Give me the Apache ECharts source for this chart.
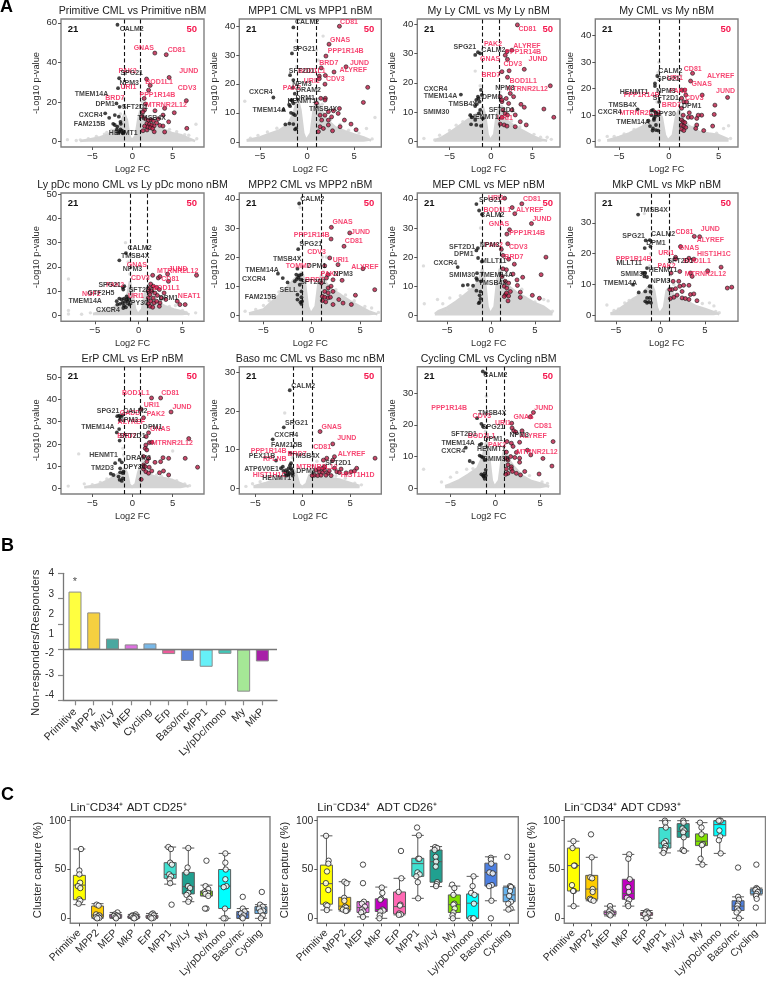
<!DOCTYPE html>
<html><head><meta charset="utf-8">
<style>html,body{margin:0;padding:0;background:#fff}#c{width:766px;height:981px}</style>
<script src="https://cdn.jsdelivr.net/npm/echarts@6/dist/echarts.min.js"></script>
</head><body><div id="c"></div>
<script>
const panelTitles=['Primitive CML vs Primitive nBM','MPP1 CML vs MPP1 nBM','My Ly CML vs My Ly nBM','My CML vs My nBM','Ly pDc mono CML vs Ly pDc mono nBM','MPP2 CML vs MPP2 nBM','MEP CML vs MEP nBM','MkP CML vs MkP nBM','ErP CML vs ErP nBM','Baso mc CML vs Baso mc nBM','Cycling CML vs Cycling nBM'];
const downCount='21', upCount='50';
const yTicks=[[0,20,40,60],[0,10,20,30,40],[0,10,20,30,40],[0,10,20,30,40],[0,10,20,30,40,50],[0,10,20,30,40],[0,10,20,30,40],[0,10,20,30],[0,10,20,30,40,50],[0,10,20,30],[0,10,20,30]];
const xTicks=[-5,0,5];
// cloud envelopes (upper edge of the dense grey mass) [log2FC, -log10p]
const env1=[[-6.5,.3],[-5.5,1],[-4,2.2],[-3,3.6],[-2,6.7],[-1.4,10],[-1,14],[-.7,11],[-.4,3],[-.1,.6],[.1,.6],[.4,3],[.7,11],[1,16],[1.5,13],[2,10],[3,7],[4,5.9],[5,4.2],[6,3.4],[7,1.7],[7.8,.3]];
const env2=[[-6.4,.5],[-5,1.5],[-4,2.7],[-3,3.8],[-2,6],[-1.4,10],[-1,15],[-.7,11],[-.4,3],[-.1,.5],[.1,.5],[.4,3],[.7,11],[1,15],[1.5,11],[2,8],[3,5],[4,3.7],[5,2.5],[6,1.5],[6.8,.4]];
const env3=[[-6.8,.5],[-6,1.3],[-5,3],[-4,5],[-3,7],[-2,9],[-1.4,10],[-1,12],[-.7,9],[-.4,2.5],[-.1,.4],[.1,.4],[.4,2.5],[.7,9],[1,12],[1.5,9],[2,7],[3,5],[4,3.5],[5,2],[6,.8],[6.8,.3]];
const env4=[[-6.2,.5],[-5,1.8],[-4,3.1],[-3,5],[-2,6.9],[-1.4,9],[-1,12],[-.7,9],[-.4,2.5],[-.1,.4],[.1,.4],[.4,2.5],[.7,9],[1,12],[1.5,8],[2,6],[3,3.8],[4,3.1],[5,2.5],[6,.9]];
const env5=[[-5.2,.5],[-4,1.7],[-3,3],[-2,5],[-1.3,8],[-1,14],[-.7,9],[-.4,2.5],[-.1,.4],[.1,.4],[.4,2.5],[.7,9],[1,12],[1.5,7],[2,5.5],[3,3.8],[4,2.4],[5,1.6],[5.8,.3]];
const env6=[[-6.5,.6],[-5,2],[-4,5],[-3,8],[-2,11.7],[-1.3,14],[-1,15],[-.7,11],[-.4,3],[-.1,.5],[.1,.5],[.4,3],[.7,11],[1,14],[1.5,11],[2,9],[3,7],[4,4.8],[5,3],[6,1.2],[6.8,.3]];
const env7=[[-6.4,.5],[-6,1.5],[-5,2.7],[-4,4.7],[-3,7],[-2,9.4],[-1.4,12],[-1,16],[-.7,12],[-.4,3],[-.1,.5],[.1,.5],[.4,3],[.7,12],[1,16],[1.5,12],[2,10],[3,7.6],[4,6],[5,4.2],[6,3],[7,.8]];
const env8=[[-5.6,.5],[-5,1.2],[-4,3.2],[-3,5.4],[-2,7],[-1.4,9],[-1,10],[-.7,8],[-.4,2.5],[-.1,.4],[.1,.4],[.4,2.5],[.7,8],[1,9],[1.5,6.5],[2,5.2],[3,4.5],[4,2.9],[5,2],[6,1],[6.6,.3]];
const env9=[[-6,.5],[-5,1],[-4,2],[-3,3.7],[-2,6],[-1.4,7.5],[-1,9],[-.7,7],[-.4,2],[-.1,.4],[.1,.4],[.4,2],[.7,7],[1,10],[1.5,8],[2,6.3],[3,5],[4,4.5],[5,3.7],[6,2.2],[7,.7]];
const env10=[[-5.2,.5],[-4,1.3],[-3,2.2],[-2,3],[-1.4,4],[-1,5],[-.7,3.8],[-.4,1.2],[-.1,.3],[.1,.3],[.4,1.2],[.7,3.4],[1,4],[2,2.8],[3,2.6],[4,2.2],[5,1.4],[6,.6]];
const env11=[[-5.6,.7],[-5,1.3],[-4,2.6],[-3,4.3],[-2,6.3],[-1.4,10],[-1,15],[-.7,10],[-.4,2.5],[-.1,.4],[.1,.4],[.4,2.5],[.7,9],[1,12],[1.5,9],[2,7],[3,3.9],[4,2.3],[5,1.5],[6,.5]];
// scattered grey genes outside the dense mass
const gray1=[[-8.1,1],[-7,.6],[-6.5,.9],[-5.5,1.5],[-4.5,2.6],[-3.5,3.8],[-2.6,5.8],[-1.5,14],[-1.2,18],[-1.1,22],[1.1,24],[1.2,20],[1.5,17],[2.5,11],[3.2,9],[5.5,5],[6.5,3.5],[7,3.2],[7.9,8.8],[8,1.5],[4.6,6.2],[3.7,7.4],[-3.2,4.6]];
const gray2=[[-6.6,14],[-6,1.2],[-5.2,2.2],[-4.2,3.4],[-3.2,4.7],[-1.1,35],[-1.1,26],[-1.1,20],[1.0,31.7],[1.2,28.2],[1.7,36.5],[1.2,18],[1.6,13],[3.5,6],[5.5,3],[6.3,4.6],[7.2,8.4],[6.9,1],[2.5,7.6],[4.4,4]];
const gray3=[[-8.1,1.1],[-6.2,2.2],[-6.8,.6],[-5,3.8],[-4.2,5.6],[-3.4,6.8],[-1.9,24],[-1.3,19],[-1.1,15],[1.1,17],[1.3,12],[2.5,7],[5.2,2.5],[6,1.5],[6.8,1.5],[7.3,.8],[3.5,5],[-2.5,9.2]];
const gray4=[[-7,.5],[-6.2,2],[-5.5,2],[-4.5,2.9],[-3.5,4.6],[-1.1,19],[-1.1,26],[-1,30],[-1.2,15],[1.1,15],[1.2,25],[1.4,10],[4.8,3.2],[5.5,5],[6,6],[6.2,1.2],[-2.5,6.7],[2.5,5.5]];
const gray5=[[-8,15],[-8,2],[-8,.5],[-6.5,.4],[-5.5,1],[-4.5,2],[-1.5,30],[-1.2,22],[-1,17],[1.1,16],[1.5,10],[2.5,6],[4.2,4],[5,2],[5.4,1.2],[6.5,1],[-3.5,2.9],[3.5,3.6]];
const gray6=[[-6.9,1.4],[-5.8,2],[-5,3.4],[-4.4,5],[-1.2,37],[-1.1,25],[-1.3,20],[1.1,20],[1.2,15],[1.5,20],[3.5,7],[4.4,5],[5.5,3],[6.2,2.5],[6.9,1],[-3.4,8],[2.5,8.8]];
const gray7=[[-7.7,17],[-7.6,4],[-6.1,5.5],[-5.5,4],[-5,2],[-4.7,6],[-1.2,30],[-1.1,25],[1.2,22],[1.1,18],[3.5,9],[5,4.6],[6,5.5],[6.5,5],[7,1.5],[-3.5,6.8],[-2.5,9]];
const gray8=[[-6,3.3],[-5.2,1.5],[-4.7,2],[-4,4],[-3.5,4.8],[-1.8,33],[-1.1,20],[-1.2,16],[1.1,13],[1.5,10],[4.7,3.8],[5.5,4],[6,3],[6.2,1.2],[6.6,.8],[-2.5,6.8],[2.5,5]];
const gray9=[[-8,1],[-6.7,15.5],[-6,2],[-5,1.6],[-4,2.6],[-3.2,4.2],[-1.2,18],[-1.1,15],[1.2,15],[1.3,12],[3,6],[5,16.8],[5.5,3.4],[6.5,2],[7.1,1.2],[-2.5,5.6],[3.6,5.4]];
const gray10=[[-6,.5],[-5.3,1.2],[-4.5,1.7],[-3.5,2.5],[-1.9,19.5],[-1.2,11],[-1.1,8],[1.1,6],[1.5,7],[3.5,3.2],[4.5,2.6],[5.5,1.3],[6.2,.9],[-2.5,3]];
const gray11=[[-8,6],[-6,2],[-5,3.5],[-4.9,1.2],[-4.3,5],[-3.2,6],[-1,29],[-1,24],[-1.1,18],[1.1,14],[1.2,10],[3.8,4],[5.2,2],[5.8,1.5],[-2.5,6.2],[2.5,5]];
// significantly down-regulated genes
const black1=[[-1.87,59],[-1.66,32],[-1.8,27],[-2.9,12],[-3.4,14.3],[-1.6,17.6],[-2.2,13.4],[-1.7,12.6],[-1.5,10],[-2.2,8.4],[-1.9,7.6],[-1.5,6.2],[-1.3,5.5],[-1.6,5],[-1.2,4.2],[-2.4,9],[-1.45,9],[-1.95,6],[-2,19.3],[-1.1,4.7],[-1.8,4.4]];
const black2=[[-1.45,39.5],[-1.6,30.5],[-1.8,23],[-1.45,21.3],[-3.57,15.3],[-1.5,18.7],[-1.6,14.4],[-1.8,12.3],[-1.45,13.3],[-1.7,10],[-1.45,9.6],[-2.3,6],[-1.87,6.3],[-1.45,6.1],[-1.27,4.3],[-1.27,9.2],[-1.7,14.4],[-2.5,11],[-1.15,4.6],[-1.3,16.6],[-1.9,12.8]];
const black3=[[-1.57,30.4],[-1.3,30],[-3.63,16],[-1.1,15.9],[-1.5,14.7],[-1.77,14.2],[-1.37,13.6],[-1.7,12.8],[-1.9,12.1],[-2.5,9],[-2.3,8.3],[-1.9,7.4],[-1.2,5.4],[-1.77,5.7],[-2.4,5.9],[-.97,7.9],[-1.45,9.6],[-1.3,10.8],[-1.57,15.3],[-1.2,17.6],[-1.9,29.5]];
const black4=[[-1.17,24.8],[-1.4,22],[-1.4,21],[-1.6,12],[-3.15,12.2],[-1.75,11.7],[-1.4,11.3],[-1.24,10.7],[-1.75,10],[-1.4,9.4],[-2.05,7.9],[-1.5,8.2],[-1.9,5.9],[-1.6,5],[-1.3,4.4],[-1.07,4.2],[-1.5,8.8],[-1.07,10],[-.97,15],[-1.3,6.3],[-1.64,4.2]];
const black5=[[-1.45,25.7],[-2.2,22.7],[-1.63,12],[-1.75,10.6],[-2.5,5.8],[-2.2,6.9],[-1.94,6.5],[-1.67,6.9],[-1.37,6.5],[-1.83,5.1],[-2.13,4.7],[-1.67,4],[-1.18,5.5],[-1.45,3.3],[-1.75,3],[-1.18,6.9],[-1.06,4.4],[-2.43,4.4],[-1.56,5.5],[-1.37,7.8],[-1.8,11.5]];
const black6=[[-1.3,38.4],[-1.4,22.7],[-1.48,16],[-3.5,14.3],[-3,12.8],[-2.5,11.3],[-1.6,14],[-1.3,13.7],[-1.07,14],[-1.4,13],[-1.76,11.7],[-1.17,12.3],[-1.24,10.5],[-1.07,8.2],[-1.48,5.4],[-1.07,6.2],[-1,4.8],[-1.07,3.9],[-1.48,7.1],[-1.17,4.5],[-1.55,12.4]];
const black7=[[-1.67,38.2],[-1.36,36],[-1.02,34.7],[-1.5,23.1],[-1.67,22.3],[-1.48,19.7],[-3.8,16.6],[-1.6,14.5],[-1.67,12.8],[-1.6,12.2],[-3.2,10.3],[-2.65,10.5],[-2.05,10.2],[-1.67,8.5],[-1.2,8.2],[-1.3,6.9],[-1.2,5.7],[-1.4,4.2],[-1.3,4.6],[-1.14,11.7],[-1.05,18.5]];
const black8=[[-2.5,32.7],[-1.65,24.3],[-1.2,24.4],[-1.12,22.3],[-1.76,21.8],[-1.5,15.3],[-1.7,13.7],[-1.95,13.7],[-1.8,12.6],[-1.5,12.4],[-3.07,9.9],[-2.43,7.4],[-1.7,7.7],[-1.2,9.4],[-1.5,5.6],[-1.7,4.5],[-1.3,4.3],[-1.05,4],[-1.2,5.6],[-1.5,4],[-1.1,7.6]];
const black9=[[-1.66,32.7],[-1.45,32.3],[-1.25,33],[-1.6,30.8],[-1.66,26.7],[-1.95,25.2],[-1.6,21.5],[-1.6,12.8],[-2.16,11.3],[-1.33,11.7],[-1.54,9],[-2.7,6.6],[-2.37,6],[-1.54,7.2],[-1.74,5.3],[-1.6,3.8],[-1.2,6.8],[-1.2,4.5],[-1.33,3.3],[-1.12,7.5],[-1.9,32.5]];
const black10=[[-1.37,25.4],[-2,15.8],[-3.17,12.7],[-1.3,9.2],[-2.82,7.2],[-2.1,5.6],[-1.23,6.5],[-1.48,5.2],[-1.76,4.7],[-1.23,5.2],[-1.58,4.3],[-1.4,3.9],[-1.13,4.7],[-1.06,3.9],[-1.83,3.9],[-2.3,5.2],[-1.34,6],[-2.04,4.5],[-1.06,3.3],[-1.7,3.3],[-1.5,3.5]];
const black11=[[-1.4,36.8],[-1.1,36.3],[-2.04,22.1],[-1.56,20.3],[-1.38,19.5],[-1.56,14],[-1.75,13.7],[-3.3,12.8],[-1.75,10.3],[-1.56,10],[-1.38,9.7],[-2.86,8.6],[-2.5,8.1],[-1.2,8.9],[-1.08,5.8],[-1.56,4.4],[-1.2,4.7],[-1.3,3.7],[-1.08,4],[-1.2,3],[-1.38,4]];
// significantly up-regulated genes
const red1=[[2.78,44.7],[4.2,43.9],[1.75,31.6],[2.2,28.4],[4.56,32.4],[6.7,20.7],[5.2,14.6],[6.76,6.7],[1.45,21.8],[2,26],[1.6,19],[1.5,16],[2.8,15.6],[3.8,13.4],[4,16.8],[4.5,10],[4,4.9],[2.7,5],[1.8,5.9],[1.3,5.5],[3.4,8.2],[3.8,7.9],[1.6,11.5],[2,10.8],[2.3,11],[2.6,10.5],[1.8,9.2],[2.1,8.8],[2.4,8.4],[2.7,8],[1.9,7.4],[2.2,7],[2.5,6.6],[1.5,7.8],[1.2,12.8],[1.3,15],[3,9.5],[3.2,11.5]];
const red2=[[3.43,39.9],[2.33,33.7],[2,29.6],[1.5,25.5],[4.13,25.9],[2.86,24.1],[1.94,22.9],[1.3,22.7],[1.3,21.8],[1.9,19.9],[6.43,18.8],[5.97,13.6],[1.45,15],[1.94,15],[1.9,14.4],[1,13.3],[3.43,11.5],[2.8,10.7],[2.26,10.4],[3.3,9.8],[1.38,9.2],[1.9,9.2],[1.55,7.5],[2.26,7.5],[2.6,8.6],[3.96,7.5],[4.66,6.1],[5.2,4.15],[3.5,5.2],[2.7,3.8],[1.38,5.2],[1.73,4.6],[1.2,3.5],[2.26,5.8]];
const red3=[[3.2,39.7],[2.54,31.1],[1.94,30.6],[1.73,29.4],[2,28],[4.03,24.6],[2.2,24.1],[1.33,23.8],[2,21.9],[7.18,19],[7.6,8.3],[6.4,11.1],[2.74,15.3],[1.33,13.6],[2.14,13],[3.63,12.7],[4.03,11.7],[1.45,10.8],[2.54,10.8],[1.73,9.6],[2,9.1],[2.94,9.1],[1.33,8.3],[3.55,6.8],[2.94,5.1],[4.27,5.7],[1.13,6],[1.6,5.7],[1.94,5.3],[1.13,15.3],[1.33,14.2],[2.34,16.4],[1.85,14.7]];
const red4=[[2.38,25.8],[2.18,22.9],[5.9,16.7],[3.35,17.6],[4.63,13.8],[4.56,10.3],[4.4,5.9],[2.8,8.8],[3.3,10],[2.95,10],[1.28,19.5],[1.6,19.5],[1.7,17.6],[1.28,16.4],[1.5,15],[1.78,15],[1.28,12.6],[2.05,10.9],[1.44,10],[1.95,9.2],[1.28,8.2],[1.44,7.5],[1.6,7.2],[1.28,6.3],[1.5,5.9],[1.7,5.4],[1.28,4.7],[1.5,4.2],[2.28,9.2],[2.8,6.3],[3.5,4.2],[2.7,5]];
const red5=[[6.6,16.5],[1.6,16.5],[3.3,17],[2.24,15.4],[2.43,16],[3.4,14],[1.37,12.9],[1.67,12],[2.05,11.5],[2.36,10.6],[1.22,11.3],[1.48,9.9],[1.86,9.2],[2.13,8.2],[1.3,8.5],[1.67,7.1],[1.1,7.1],[1.37,5.8],[1.75,5.1],[1.1,4.7],[1.3,3.7],[1.6,3.3],[3.1,6.5],[4.7,4.4],[5.3,4.4],[4.4,5.8],[2.6,7.1],[2.9,9.2],[2.43,5.1],[2.05,5.8],[1.1,9.9],[2.36,3.7]];
const red6=[[2.03,30.2],[2,26.2],[3.93,28.3],[3.34,23.7],[1.86,19.7],[2.72,17.4],[1.34,17],[5.3,16],[6.52,8.8],[4.52,6.9],[4.1,3.7],[3.24,4.2],[3.14,12],[2.2,12.2],[1.7,9.4],[2,10],[1.34,8.2],[1.7,7.7],[1.1,6.5],[1.34,6.2],[1.7,6],[1.1,5],[1.45,4.6],[2.2,3.7],[2.8,5.4],[2.2,8.2],[1,11.1],[1.7,14],[1.52,12.8],[1.93,6.2]];
const red7=[[1.55,40.2],[3.5,38.3],[2.4,37],[2.7,34.9],[4.6,31.5],[2.1,29.4],[1.8,27.9],[1.9,24.6],[1.17,22.7],[6.25,20],[1.36,20.6],[2,19.3],[1.36,16],[1.75,15.7],[2.65,17.6],[5.7,14],[3.6,13.1],[2.5,14.2],[2.95,12.2],[1.63,11.7],[2,11.1],[1.5,10],[1.8,9.4],[3,10.3],[3.33,8],[1.63,7.1],[2,6.7],[3.33,6.2],[4.7,6.9],[5.5,5.9],[1.93,5],[1.5,6.5],[1.75,7.7],[1.25,13.4],[2.2,8.2]];
const red8=[[4.4,25.5],[3.8,25.6],[2.25,22.3],[1.7,18.8],[1.7,18.2],[3.2,18.5],[3.75,18.2],[6.8,15.6],[5.3,14.4],[7.5,8.8],[8,9.1],[3.37,13.7],[3.56,12.6],[2.17,14.2],[1.2,13.7],[1.42,11],[2.06,11],[2.6,9.7],[3.2,9.7],[2.17,9.4],[1.3,8.3],[1.7,8.6],[2.43,7.7],[3.37,6.7],[3.75,6.9],[1.87,6.5],[1.5,5.8],[1.12,5.4],[2.43,5.6],[2.8,5.4],[4.1,4.7],[3.2,5.1],[1.05,8.3]];
const red9=[[2.37,40.7],[3.5,40.7],[4.8,34.4],[1.08,35.6],[1.37,31.8],[2,25],[1.7,23.3],[7,22.4],[6.56,13.5],[8.1,9.5],[4.5,13.5],[2.1,20.6],[2.4,20.7],[1.66,19.5],[1.58,18],[1.78,17.3],[1.37,14.3],[2,13.5],[3.8,13.8],[3.5,12],[2.8,11.7],[1.37,10.5],[2.07,9.5],[1.37,8.7],[1.66,7.5],[2,6.8],[3.36,7],[3.86,7.8],[4.5,6],[1.08,4],[1.78,12],[1.58,9.8],[2.4,7.8]];
const red10=[[1.83,14.7],[3.17,11.5],[7.64,7.8],[3.35,8.2],[2.54,7.8],[2.18,7.3],[3.17,7.3],[4.05,5],[5.7,5.2],[5.1,4.3],[5.46,4.5],[3.6,4.3],[3.87,4.1],[4.58,4],[1.4,4.7],[1.76,4.3],[2.1,4.1],[2.3,4.7],[2.64,3.9],[3,3.3],[1.23,3.4],[1.58,3.3],[1.94,3.4],[2.46,3.4],[1,3.3],[1.7,5],[2.1,5.2],[2.3,5.6],[2.8,4.5],[3.35,5.2]];
const red11=[[4.24,23.9],[3.9,22.5],[1.82,20.5],[1.86,19],[2.04,18.1],[2.27,17.7],[2.97,18.1],[1.3,14.7],[1.78,14.2],[1.97,13.2],[2.7,14.5],[6.43,14.7],[5.3,9.4],[6.3,7],[4.87,4.5],[3.57,12],[3.94,10.5],[1.23,11.4],[2.34,11.3],[1.7,10],[2.16,9.7],[2.7,9.5],[1.15,9.5],[1.4,8.9],[2.7,8.2],[1.4,7.4],[1.78,6.8],[1.23,6.1],[1.78,6.1],[1.4,4.7],[1.9,5.3],[2.34,4.7],[2.8,4.2],[3.27,5.3],[1.15,4.4]];
// gene labels [x, y, name]
const blackNames1=[[-.1,56.8,'CALM2'],[-.1,34.5,'SPG21'],[-.4,29.4,'NPM3'],[-5.1,24.2,'TMEM14A'],[-3.4,19.2,'DPM1'],[.3,17.6,'SFT2D1'],[-5.2,13.3,'CXCR4'],[-5.35,8.9,'FAM215B'],[2.4,11.8,'TMSB4X'],[-1.15,4.5,'HENMT1']];
const redNames1=[[1.4,47.2,'GNAS'],[5.5,46.2,'CD81'],[-.6,35.6,'PAK2'],[7,35.5,'JUND'],[3.3,30.3,'BOD1L1'],[-.5,27.7,'URI1'],[6.8,27,'CDV3'],[-2.2,22.2,'BRD7'],[3.1,23.5,'PPP1R14B'],[4.2,18.3,'MTRNR2L12']];
const blackNames2=[[0,41.2,'CALM2'],[-.3,32,'SPG21'],[-.55,24.4,'SFT2D1'],[-.55,20,'NPM3'],[.15,17.9,'DRAM2'],[-4.9,17,'CXCR4'],[-.2,15.2,'DPM1'],[-.55,14,'HENMT1'],[-4,11,'TMEM14A'],[1.7,11.2,'TMSB4X']];
const redNames2=[[4.45,41.5,'CD81'],[3.5,35.2,'GNAS'],[4.1,31.4,'PPP1R14B'],[2.3,27.3,'BRD7'],[5.55,27.3,'JUND'],[.5,24.4,'BOD1L1'],[4.9,24.8,'ALYREF'],[3,21.6,'CDV3'],[.5,21,'URI1'],[-1.6,18.4,'PAK2']];
const blackNames3=[[-3.15,32,'SPG21'],[.3,31.1,'CALM2'],[-6.7,17.9,'CXCR4'],[-6.1,15.5,'TMEM14A'],[.1,15.3,'DPM1'],[1.7,18.1,'NPM3'],[-3.4,12.7,'TMSB4X'],[1.3,10.8,'SFT2D1'],[-6.6,10,'SMIM30'],[-.8,8.3,'HENMT1']];
const redNames3=[[4.4,38.4,'CD81'],[.25,33.3,'PAK2'],[4.35,32.6,'ALYREF'],[3.9,30.5,'PPP1R14B'],[-.1,28.1,'GNAS'],[5.7,28.1,'JUND'],[2.65,26.3,'CDV3'],[0,22.5,'BRD7'],[3.9,20.7,'BOD1L1'],[4.4,17.9,'MTRNR2L12'],[1.7,7.9,'URI1']];
const blackNames4=[[.15,26.8,'CALM2'],[-.05,23.5,'SPG21'],[-3.5,18.6,'HENMT1'],[-.3,19.2,'NPM3'],[-.3,16.4,'SFT2D1'],[-4.65,14,'TMSB4X'],[2.3,13.5,'DPM1'],[-5.95,11,'CXCR4'],[-.4,10.3,'DPY30'],[-3.6,7.5,'TMEM14A']];
const redNames4=[[2.4,27.5,'CD81'],[5.2,24.9,'ALYREF'],[.6,23.9,'URI1'],[3.3,21.8,'GNAS'],[5.7,19.1,'JUND'],[.95,19.2,'PAK2'],[-2.75,17.6,'PPP1R14B'],[2.55,16.4,'CDV3'],[.25,13.7,'BRD7'],[-2.9,10.9,'MTRNR2L12']];
const blackNames5=[[.1,27.6,'CALM2'],[-.4,24.5,'TMSB4X'],[-.7,19.2,'NPM3'],[-3.3,12.4,'SPG21'],[.35,10.6,'SFT2D1'],[-4.3,9.2,'GTF2H5'],[-6.1,5.8,'TMEM14A'],[-.2,5.1,'DPY30'],[3.4,6.9,'DPM1'],[-3.5,2.1,'CXCR4']];
const redNames5=[[-.2,20.6,'GNAS'],[4.5,19.1,'JUND'],[4.45,18.1,'MTRNR2L12'],[.2,15.4,'CDV3'],[3.6,15,'CD81'],[3.1,11.3,'BOD1L1'],[-.3,8.1,'URI1'],[5.75,8.1,'NEAT1'],[-2.7,12.4,'PAK2'],[-5.4,8.8,'NGF2']];
const blackNames6=[[.05,40,'CALM2'],[-.1,24.3,'SPG21'],[-2.55,19.2,'TMSB4X'],[-5.15,15.6,'TMEM14A'],[-6,12.5,'CXCR4'],[.5,16.8,'DPM1'],[3.25,14.2,'NPM3'],[.15,11.3,'SFT2D1'],[-2.4,8.8,'SELL'],[-5.3,6.2,'FAM215B']];
const redNames6=[[3.2,32,'GNAS'],[0,27.7,'PPP1R14B'],[5.05,28.5,'JUND'],[4.35,25.4,'CD81'],[.5,21.8,'CDV3'],[3,19,'URI1'],[-1.4,17,'TOMM7'],[5.5,16.5,'ALYREF'],[.3,12,'BRD7'],[1.85,14.2,'PAK2']];
const blackNames7=[[-.1,39.7,'SPG21'],[.15,34.5,'CALM2'],[-3.3,23.5,'SFT2D1'],[-.15,24.3,'NPM3'],[-3.1,21,'DPM1'],[.3,18.5,'MLLT11'],[-5.2,17.9,'CXCR4'],[-3.3,13.9,'SMIM30'],[.6,13.9,'TMEM14A'],[.2,11,'TMSB4X']];
const redNames7=[[.55,40.3,'URI1'],[4.65,39.8,'CD81'],[.7,36,'BOD1L1'],[4.4,36.3,'ALYREF'],[5.8,33.1,'JUND'],[.9,31.2,'GNAS'],[4.1,28.1,'PPP1R14B'],[.3,24.3,'PAK2'],[3.1,23.3,'CDV3'],[2.6,19.9,'BRD7']];
const blackNames8=[[-.75,34.2,'TMSB4X'],[-3,25.8,'SPG21'],[.3,26.2,'CALM2'],[-.5,23.3,'DPM1'],[-3.5,17,'MLLT11'],[2.25,17.7,'SFT2D1'],[-3,13.3,'SMIM30'],[.3,14.5,'HENMT1'],[0,11,'NPM3'],[-4.5,10.3,'TMEM14A']];
const redNames8=[[5.6,28.1,'JUND'],[2.7,27,'CD81'],[5.6,24.3,'ALYREF'],[3.2,21.7,'GNAS'],[.65,20.2,'URI1'],[6,19.7,'HIST1H1C'],[4.1,17.7,'BOD1L1'],[-3,18.2,'PPP1R14B'],[.7,15.9,'PAK2'],[5.05,13.2,'MTRNR2L12']];
const blackNames9=[[-3.05,35,'SPG21'],[.35,35,'CALM2'],[-.5,30.8,'NPM3'],[-4.3,27.6,'TMEM14A'],[2.5,27.5,'DPM1'],[0,23.7,'SFT2D1'],[-3.6,15,'HENMT1'],[.75,13.5,'DRAM2'],[-3.75,9.3,'TM2D3'],[.25,9.5,'DPY30']];
const redNames9=[[.4,42.8,'BOD1L1'],[4.7,43,'CD81'],[2.4,37.5,'URI1'],[6.15,36.6,'JUND'],[-.3,34,'GADD'],[2.9,33.3,'PAK2'],[-.15,29.7,'ALYREF'],[3.45,26.9,'GNAS'],[4.95,20.4,'MTRNR2L12'],[-.7,23.7,'BRD7']];
const blackNames10=[[.05,26.6,'CALM2'],[-.65,17,'SRG21'],[-1.75,13.8,'CXCR4'],[-1.7,11.1,'FAM215B'],[-4.3,8.4,'PEX11B'],[.3,8.4,'TMSB4X'],[3.75,6.5,'SFT2D1'],[-4.35,5.1,'ATP6V0E1'],[.35,4.5,'DPM1'],[-2.75,2.6,'HENMT1']];
const redNames10=[[3.05,15.9,'GNAS'],[4.65,12.9,'JUND'],[2.05,10.7,'CD81'],[-3.6,9.7,'PPP1R14B'],[5.15,8.9,'ALYREF'],[-2.95,7.5,'RFLNB'],[1.5,5.4,'MTRNR2L12'],[5.8,3.4,'HIST1H1D'],[-3.5,3.4,'HIST1H1C'],[-.6,8.8,'BRD7']];
const blackNames11=[[0,35.6,'CALM2'],[-.35,23.6,'TMSB4X'],[-.25,19.2,'SPG21'],[-3.5,17.2,'SFT2D1'],[2.65,16.8,'NPM3'],[-.25,15.4,'DPM1'],[-4.15,14.4,'TMEM14A'],[-.45,12.2,'HENMT1'],[-4.7,11.6,'CXCR4'],[.1,9.3,'SMIM30']];
const redNames11=[[-5.15,25.4,'PPP1R14B'],[5.4,25.3,'JUND'],[-1.5,22.8,'CDV3'],[3.15,22.4,'GNAS'],[.85,20.5,'URI1'],[5.3,19.6,'CD81'],[-1.55,16.6,'BOD1L1'],[4.2,16.6,'ALYREF'],[.2,13.7,'PAK2'],[4.65,11.3,'MTRNR2L12']];
// panel B
const ratioCats=['Primitive','MPP2','My/Ly','MEP','Cycling','Erp','Baso/mc','MPP1','Ly/pDc/mono','My','MkP'];
const ratioVals=[2.28,1.46,.43,.2,.24,-.18,-.45,-.68,-.17,-1.66,-.47];
const ratioStar=[[0,2.65,'*']];
const ratioTickText=['4','3','2','1','-2','-3','-4'];
// panel C
const boxCats=['Primitive','MPP2','MEP','MkP','ErP','MPP1','My/Ly','My','Ly/pDc/mono','Baso/mc','Cycling'];
const boxTitles=['Lin\u207BCD34\u207A ADT CD25\u207A','Lin\u207BCD34\u207A  ADT CD26\u207A','Lin\u207BCD34\u207A ADT CD93\u207A'];
const box25=[[14,19,34,44,71],[0,1,3.4,12.6,15],[0,.7,2.5,4,6],[0,.5,1.5,2.5,4],[0,.5,1.5,3,5],[35,41,45,57,73],[17,25,32.5,47,72],[23,23,26,28,34],[0,10,33,50,66.5],[0,0,3.5,7,10],[0,5,8.5,12,14]];
const dots25=[[[.09,71],[0,49],[0,45],[.04,36.5],[-.08,33],[.05,31],[0,19.5],[.05,18],[-.04,15]],[[-.05,14],[.06,13],[-.08,4],[.1,3],[.02,2],[-.1,1],[.1,.5],[-.02,0]],[[.1,6],[-.05,4],[.05,3],[-.1,2.5],[.12,2],[-.02,1],[.02,0]],[[.1,4],[-.08,3],[.05,2.5],[-.12,2],[.12,1],[-.04,.5],[.02,0]],[[.05,5],[-.02,4],[.1,3],[-.1,1],[.08,.5],[-.03,0]],[[-.1,73],[.04,71],[0,57],[.1,55],[-.05,45],[.05,43],[-.03,40],[0,36],[.08,14]],[[0,72],[-.04,52],[-.1,47],[-.02,33],[.1,31],[0,26],[-.1,24],[.06,20],[0,17]],[[0,59],[-.05,33],[.1,30],[-.1,27],[.08,26],[-.06,25],[.1,23],[0,10],[-.08,10]],[[.04,66.5],[.04,57],[.06,50],[.04,40],[.1,33],[-.05,32],[.02,10],[.05,0],[-.06,0]],[[0,22],[0,10],[.1,7],[-.1,5],[.05,3],[-.05,1],[0,0]],[[.05,27],[-.05,14],[.1,12],[-.1,10],[.12,8],[-.02,7],[.1,3],[0,0]]];
const box26=[[8.5,14.5,35.5,54.5,84.5],[7.5,8.5,12.5,21.5,37.5],[1.5,6,11,17,17],[0,7,9,20,32],[3.5,4.5,12,27,41],[20.5,43,56,61.5,85],[32.5,37,58,70,73.5],[0,6,14,24,33],[0,0,15.5,25,43],[18,33,47,56.5,63],[8.5,17,24,32,33]];
const dots26=[[[-.02,84.5],[.12,59],[.1,56],[.03,48],[-.03,36],[.1,29],[-.03,14],[.05,13],[.02,8.5]],[[-.02,37.5],[.1,36],[-.03,21],[-.02,18],[.02,12],[.08,11],[-.1,9],[.12,8],[.06,7.5]],[[0,55],[0,36],[.05,17],[-.06,15],[.1,12],[-.05,9],[.02,7],[-.1,6],[0,1.5]],[[.03,31.5],[.06,26],[0,20],[-.05,19],[.08,9],[.12,8],[-.05,7],[-.08,3],[-.1,0]],[[.08,69],[.1,41],[-.05,27],[.05,14],[.02,13],[-.02,5],[.08,4],[-.04,3.5]],[[-.04,93],[.06,85],[.02,61],[.08,61],[-.02,47],[.1,45],[-.08,43],[0,37],[.02,20.5]],[[-.05,73],[.06,72],[-.08,70],[-.02,63],[0,58],[-.02,53],[.06,37],[.03,35],[0,33]],[[-.12,34.5],[0,31],[-.05,24],[0,15],[-.05,14],[.02,10],[-.05,6],[-.1,3],[-.08,0]],[[.05,43],[0,33],[-.08,26],[.1,24],[.07,15],[-.12,0],[.02,0],[.06,0]],[[0,62],[0,60],[.02,56],[-.08,47],[.1,46],[.05,34],[-.1,33],[.03,18],[0,0]],[[-.1,63],[.05,33],[.1,32],[.05,28],[0,23],[.1,17],[-.05,15],[.08,10],[-.04,9]]];
const box93=[[12.5,28,54,72,79],[18,19.5,30,44,62.5],[2.5,4,6,7.5,12.5],[12.5,19.5,25.5,40,65.5],[0,3,4.5,6,8],[67,72,77,93,100],[69,83,89,97,100],[55,74.5,79,86.5,98],[66.5,84.5,96,100,100],[0,8,12.5,18,22],[24,25,28,30,31]];
const dots93=[[[0,79],[-.05,72],[.08,54],[.03,54],[-.08,34],[.02,28],[-.02,28],[.01,12.5]],[[-.04,86],[0,62.5],[-.08,42],[.02,41],[.05,30],[.05,27],[-.1,20],[-.04,19],[.1,18]],[[0,12.5],[.02,9],[-.04,7],[.08,5],[-.05,4],[.02,3]],[[.05,65.5],[0,61],[.08,40],[0,32],[.03,27],[-.08,21],[.05,19],[-.03,15],[0,12.5]],[[.02,7],[-.05,6],[.1,5],[-.1,4],[.05,1],[-.02,0]],[[0,100],[.02,98],[.05,93],[.05,79],[-.05,77],[.05,74],[0,72],[-.03,70],[-.08,67]],[[0,100],[.02,98],[-.04,92],[.06,90],[0,88],[.03,83],[-.03,70],[.05,69]],[[-.08,98],[0,93],[0,86],[.08,76],[.02,75],[-.05,61],[.05,55]],[[0,100],[.05,100],[-.06,100],[-.02,90],[.02,84],[-.05,80],[.05,66.5]],[[0,52],[0,22],[.05,19],[0,15],[-.03,13],[-.05,10],[.02,8],[-.08,6],[.05,0]],[[0,55],[0,31],[.05,30],[-.05,29],[.08,27],[0,25],[-.02,23],[.02,20],[-.03,11]]];

// ---------- styles and layout ---------
const FONT='"Liberation Sans",Arial,sans-serif';
const INK='#2b2b2b', REDTXT='#f5184f', FRAME='#808080';
const boxFill=['#ffff00','#ffcc00','#ee6ee8','#c000c0','#ff69b4','#40e0d0','#20a090','#7fe000','#00ffff','#4d7fe0','#66b3ee'];
const barFill=['#ffff40','#f5d040','#4aa8a0','#dd70e0','#78b8e8','#ee5a9a','#5b82d8','#66f0f8','#40c8b8','#a5e896','#a820a8'];
const colX=[[61,204],[239.3,381.3],[417.3,560],[595.3,738]];
const rowY=[[19,147],[193,321.3],[366.7,494]];
const titleOffset=8;
const xRange=[[-8.9,8.9],[-7.18,7.87],[-8.9,8.35],[-7.4,6.95],[-8.85,7.45],[-7.5,7.2],[-8.4,7.85],[-7.3,8.7],[-8.9,8.9],[-6.7,8.3],[-8.7,7.2]];
const yRange=[[-2.7,61.9],[-1.8,42.4],[-1.8,41.7],[-2,46.3],[-2.5,50.5],[-2.06,42],[-2,42],[-2,39.7],[-2.57,54.8],[-1.47,31.5],[-1.8,38.3]];
const envs=[env1,env2,env3,env4,env5,env6,env7,env8,env9,env10,env11];
const grays=[gray1,gray2,gray3,gray4,gray5,gray6,gray7,gray8,gray9,gray10,gray11];
const blacks=[black1,black2,black3,black4,black5,black6,black7,black8,black9,black10,black11];
const reds=[red1,red2,red3,red4,red5,red6,red7,red8,red9,red10,red11];
const blackNames=[blackNames1,blackNames2,blackNames3,blackNames4,blackNames5,blackNames6,blackNames7,blackNames8,blackNames9,blackNames10,blackNames11];
const redNames=[redNames1,redNames2,redNames3,redNames4,redNames5,redNames6,redNames7,redNames8,redNames9,redNames10,redNames11];

const grid=[],xAxis=[],yAxis=[],series=[],title=[],graphic=[];
const minus=v=>String(v).replace('-','\u2212');
const noLine={show:false,onZero:false};

panelTitles.forEach((t,i)=>{
  const [l,r]=colX[i%4], [tp,b]=rowY[Math.floor(i/4)];
  grid.push({left:l,top:tp,width:r-l,height:b-tp,show:true,borderColor:FRAME,borderWidth:1.4,backgroundColor:'#fff'});
  xAxis.push({gridIndex:grid.length-1,type:'value',min:xRange[i][0],max:xRange[i][1],splitLine:{show:false},axisLine:noLine,
    axisTick:{show:true,length:3,lineStyle:{color:'#555'},customValues:xTicks},
    axisLabel:{customValues:xTicks,formatter:minus,fontSize:9.5,color:INK,margin:4,fontFamily:FONT},
    name:'Log2 FC',nameLocation:'middle',nameGap:18,nameTextStyle:{fontSize:9.2,color:INK,fontFamily:FONT}});
  yAxis.push({gridIndex:grid.length-1,type:'value',min:yRange[i][0],max:yRange[i][1],splitLine:{show:false},axisLine:noLine,
    axisTick:{show:true,length:3,lineStyle:{color:'#555'},customValues:yTicks[i]},
    axisLabel:{customValues:yTicks[i],fontSize:9.5,color:INK,margin:4,fontFamily:FONT},
    name:'-Log10 p-value',nameLocation:'middle',nameGap:20,nameTextStyle:{fontSize:9.3,color:INK,fontFamily:FONT}});
  const g=grid.length-1, ax={xAxisIndex:g,yAxisIndex:g};
  series.push({...ax,type:'line',data:envs[i],showSymbol:false,silent:true,z:1,lineStyle:{color:'#d4d4d4',width:2.5},itemStyle:{color:'#d4d4d4'},areaStyle:{color:'#d4d4d4',opacity:1}});
  series.push({...ax,type:'scatter',data:grays[i],symbolSize:3.4,silent:true,z:2,itemStyle:{color:'#d4d4d4'},
    markLine:{silent:true,symbol:'none',label:{show:false},animation:false,lineStyle:{type:[4,2.5],color:'#111',width:1.1},data:[{xAxis:-1},{xAxis:1}]}});
  series.push({...ax,type:'scatter',data:reds[i],symbolSize:4,silent:true,z:3,itemStyle:{color:'#bd1a45',borderColor:'#1a1a1a',borderWidth:.8}});
  series.push({...ax,type:'scatter',data:blacks[i],symbolSize:3.8,silent:true,z:4,itemStyle:{color:'#111'}});
  [[redNames[i],REDTXT,5],[blackNames[i],'#111',6]].forEach(([d,c,z])=>{
    series.push({...ax,type:'scatter',data:d,symbolSize:0,clip:false,silent:true,z,
      label:{show:true,position:'inside',formatter:p=>p.value[2],fontSize:7,fontWeight:'bold',color:c,fontFamily:FONT}});
  });
  title.push({text:t,left:(l+r)/2,top:tp-titleOffset,textAlign:'center',textVerticalAlign:'middle',padding:0,textStyle:{fontSize:10.6,fontWeight:'normal',color:'#222',fontFamily:FONT}});
  graphic.push({type:'text',x:l+12,y:tp+10,style:{text:downCount,font:'bold 9.5px '+FONT,fill:'#111',textAlign:'center',textVerticalAlign:'middle'},z:10});
  graphic.push({type:'text',x:r-12.3,y:tp+10,style:{text:upCount,font:'bold 9.5px '+FONT,fill:REDTXT,textAlign:'center',textVerticalAlign:'middle'},z:10});
});

// panel B
{
  grid.push({left:63,top:573.3,width:214,height:127});
  const g=grid.length-1;
  const idx=ratioCats.map((_,i)=>i);
  xAxis.push({gridIndex:g,type:'value',min:-.64,max:10.78,splitLine:{show:false},axisLine:{show:true,onZero:false,lineStyle:{color:'#777',width:1.3}},
    axisTick:{show:true,length:5,lineStyle:{color:'#888',width:1.2},customValues:idx},
    axisLabel:{customValues:idx,formatter:v=>ratioCats[v],rotate:45,fontSize:10.6,color:INK,margin:10,fontFamily:FONT}});
  const pos=[3,2.18,1.39,.6,-.16,-.97,-1.8];
  yAxis.push({gridIndex:g,type:'value',min:-2,max:3,splitLine:{show:false},axisLine:{show:true,onZero:false,lineStyle:{color:'#777',width:1.3}},
    axisTick:{show:true,length:5,lineStyle:{color:'#888',width:1.2},customValues:[-2,-1,0,1,2,3]},
    axisLabel:{customValues:pos,formatter:v=>ratioTickText[pos.indexOf(v)],fontSize:10,color:INK,margin:9,fontFamily:FONT},
    name:'Non-responders/Responders',nameLocation:'middle',nameGap:21,nameTextStyle:{fontSize:11.4,color:INK,fontFamily:FONT,padding:[0,12,0,0]}});
  series.push({xAxisIndex:g,yAxisIndex:g,type:'bar',barWidth:13,silent:true,z:3,
    data:ratioVals.map((v,i)=>({value:[i,v],itemStyle:{color:barFill[i],borderColor:'#8a8a8a',borderWidth:1}})),
    markLine:{silent:true,symbol:'none',label:{show:false},animation:false,lineStyle:{type:'solid',color:'#777',width:1.3},data:[{yAxis:0}]}});
  series.push({xAxisIndex:g,yAxisIndex:g,type:'scatter',data:ratioStar,symbolSize:0,silent:true,z:5,
    label:{show:true,position:'inside',formatter:p=>p.value[2],fontSize:11,color:'#222',fontFamily:FONT}});
}

// panel C
const cCols=[[70.3,270],[317.3,518.3],[564.3,765.5]];
const cData=[[box25,dots25],[box26,dots26],[box93,dots93]];
cCols.forEach(([l,r],k)=>{
  grid.push({left:l,top:816.7,width:r-l,height:106.6,show:true,borderColor:FRAME,borderWidth:1.4,backgroundColor:'#fff'});
  const g=grid.length-1;
  const catIdx=xAxis.length;
  xAxis.push({gridIndex:g,type:'category',data:boxCats,axisLine:noLine,axisTick:{show:true,length:3,alignWithLabel:true,lineStyle:{color:'#555'}},
    splitLine:{show:false},axisLabel:{interval:0,rotate:45,fontSize:10.4,color:INK,margin:8,fontFamily:FONT}});
  const valIdx=xAxis.length;
  xAxis.push({gridIndex:g,type:'value',min:-.5,max:10.5,show:false,splitLine:{show:false}});
  const yIdx=yAxis.length;
  yAxis.push({gridIndex:g,type:'value',min:-5.1,max:104.1,splitLine:{show:false},axisLine:noLine,
    axisTick:{show:true,length:3,lineStyle:{color:'#555'},customValues:[0,50,100]},
    axisLabel:{customValues:[0,50,100],fontSize:10.4,color:INK,margin:4,fontFamily:FONT},
    name:'Cluster capture (%)',nameLocation:'middle',nameGap:27,nameTextStyle:{fontSize:11.2,color:INK,fontFamily:FONT}});
  const [box,dots]=cData[k];
  series.push({xAxisIndex:catIdx,yAxisIndex:yIdx,type:'boxplot',boxWidth:[12,12],silent:true,z:3,
    data:box.map((b,i)=>({value:b,itemStyle:{color:boxFill[i],borderColor:'#5a5a5a',borderWidth:1}}))});
  const pts=[];dots.forEach((list,i)=>list.forEach(([o,v])=>pts.push([i+o,v])));
  series.push({xAxisIndex:valIdx,yAxisIndex:yIdx,type:'scatter',data:pts,symbolSize:5.4,silent:true,clip:false,z:4,
    itemStyle:{color:'#fff',borderColor:'#222',borderWidth:1}});
  title.push({text:boxTitles[k],left:l,top:807.5,textVerticalAlign:'middle',padding:0,textStyle:{fontSize:11.6,fontWeight:'normal',color:'#222',fontFamily:FONT}});
});

[['A',0,7],['B',1,546.5],['C',1,795]].forEach(([t,x,y])=>graphic.push({type:'text',x,y,style:{text:t,font:'bold 18px '+FONT,fill:'#000',textVerticalAlign:'middle'},z:10}));

const chart=echarts.init(document.getElementById('c'),null,{renderer:'canvas',width:766,height:981});
chart.setOption({animation:false,backgroundColor:'#fff',title,grid,xAxis,yAxis,series,graphic});
</script></body></html>
